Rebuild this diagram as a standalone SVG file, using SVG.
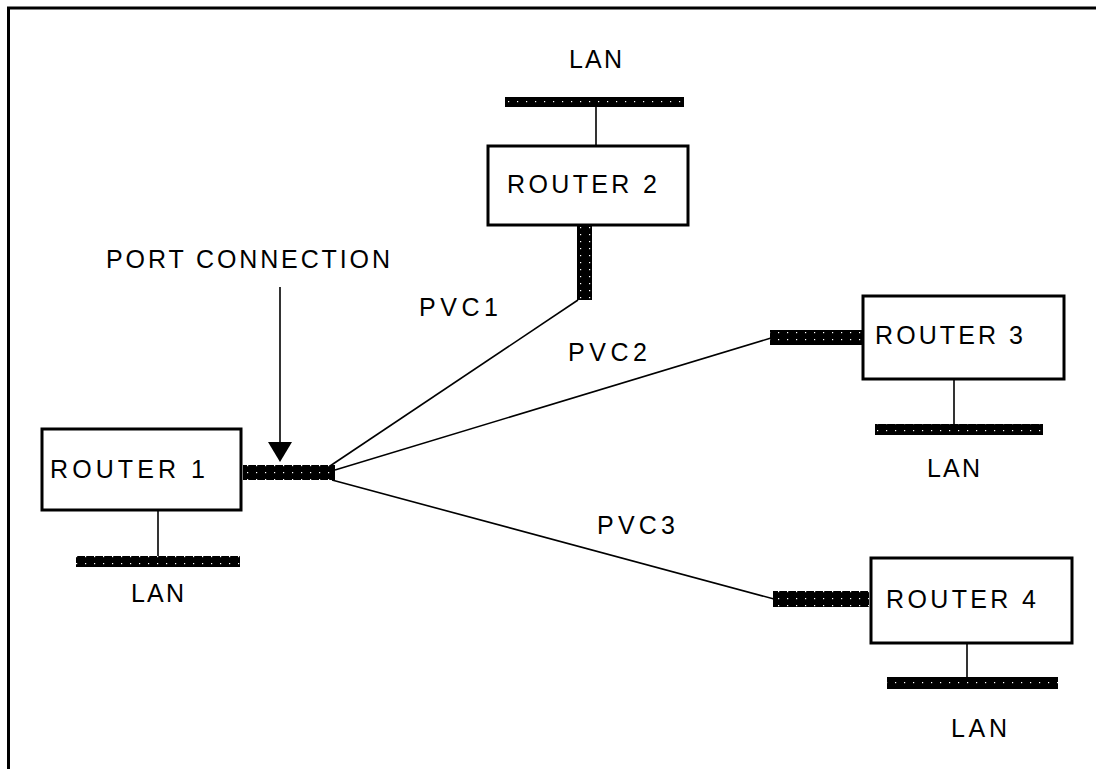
<svg xmlns="http://www.w3.org/2000/svg" width="1096" height="769" viewBox="0 0 1096 769">
<style>
.box{fill:#fff;stroke:#000;stroke-width:3}
.bar{fill:url(#dots)}
.ln{stroke:#000;stroke-width:1.6;fill:none}
text{font-family:"Liberation Sans",Arial,sans-serif;font-size:25px;fill:#000}
</style>
<defs>
<pattern id="dots" patternUnits="userSpaceOnUse" width="9" height="7">
<rect width="9" height="7" fill="#000"/>
<rect x="4" y="3" width="1.2" height="1.2" fill="#fff"/>
</pattern>
</defs>
<rect width="1096" height="769" fill="#fff"/>
<polyline points="8.5,769 8.5,8 1096,8" fill="none" stroke="#000" stroke-width="3"/>

<g id="connectors">
<line class="ln" x1="330" y1="466" x2="578" y2="300"/>
<line class="ln" x1="335" y1="470" x2="771" y2="338"/>
<line class="ln" x1="332" y1="480" x2="774" y2="599"/>
<line class="ln" x1="280" y1="287" x2="280" y2="444"/>
<polygon points="268,442 292,442 280,462" fill="#000"/>
</g>

<g id="port-label">
<text x="106" y="268" textLength="284" lengthAdjust="spacing">PORT CONNECTION</text>
</g>

<g id="pvc-labels">
<text x="419" y="316" textLength="79" lengthAdjust="spacing">PVC1</text>
<text x="568" y="361" textLength="79" lengthAdjust="spacing">PVC2</text>
<text x="597" y="534" textLength="78" lengthAdjust="spacing">PVC3</text>
</g>

<g id="router1">
<rect class="box" x="42" y="429" width="199" height="81"/>
<text x="50" y="478" textLength="155" lengthAdjust="spacing">ROUTER 1</text>
<rect class="bar" x="243" y="465" width="92" height="15"/>
<line class="ln" x1="158" y1="510" x2="158" y2="556"/>
<rect class="bar" x="76" y="556" width="164" height="11"/>
<text x="131" y="602" textLength="53" lengthAdjust="spacing">LAN</text>
</g>

<g id="router2">
<text x="569" y="68" textLength="53" lengthAdjust="spacing">LAN</text>
<rect class="bar" x="505" y="97" width="179" height="10"/>
<line class="ln" x1="596" y1="107" x2="596" y2="146"/>
<rect class="box" x="488" y="146" width="200" height="79"/>
<text x="507" y="193" textLength="150" lengthAdjust="spacing">ROUTER 2</text>
<rect class="bar" x="577" y="226" width="15" height="74"/>
</g>

<g id="router3">
<rect class="bar" x="770" y="330" width="93" height="15"/>
<rect class="box" x="863" y="296" width="201" height="83"/>
<text x="875" y="344" textLength="148" lengthAdjust="spacing">ROUTER 3</text>
<line class="ln" x1="954" y1="379" x2="954" y2="424"/>
<rect class="bar" x="875" y="424" width="168" height="11"/>
<text x="927" y="477" textLength="53" lengthAdjust="spacing">LAN</text>
</g>

<g id="router4">
<rect class="bar" x="773" y="591" width="96" height="16"/>
<rect class="box" x="871" y="558" width="201" height="85"/>
<text x="886" y="608" textLength="150" lengthAdjust="spacing">ROUTER 4</text>
<line class="ln" x1="967" y1="643" x2="967" y2="677"/>
<rect class="bar" x="887" y="677" width="171" height="12"/>
<text x="951" y="737" textLength="56" lengthAdjust="spacing">LAN</text>
</g>
</svg>
